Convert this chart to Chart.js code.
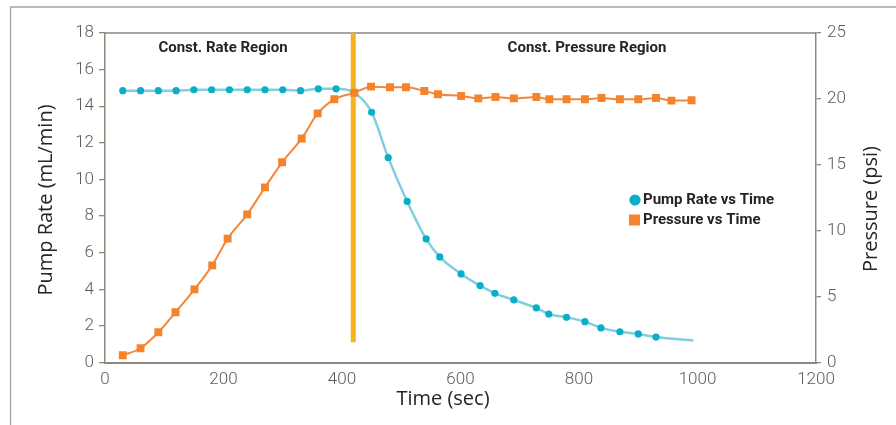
<!DOCTYPE html>
<html>
<head>
<meta charset="utf-8">
<script src="https://cdn.jsdelivr.net/npm/chart.js@4/dist/chart.umd.min.js"></script>
<style>
  html, body { margin: 0; padding: 0; background: #fff; }
  #wrap { width: 896px; height: 425px; }
</style>
</head>
<body>
<div id="wrap"><canvas id="chart" width="896" height="425"></canvas></div>
<script>
// Pump rate (mL/min) vs time (sec) - last point is the end of the smoothed line, no marker
const pumpTime = [30, 60, 90, 120, 150, 180, 210, 240, 270, 300, 330, 360, 390, 420, 450, 478, 510, 542, 565, 601, 633, 658, 690, 728, 749, 779, 810, 837, 869, 900, 930, 993];
const pumpRate = [14.85, 14.85, 14.85, 14.85, 14.9, 14.9, 14.9, 14.9, 14.9, 14.9, 14.85, 14.95, 14.95, 14.75, 13.67, 11.19, 8.8, 6.75, 5.77, 4.84, 4.2, 3.78, 3.42, 2.98, 2.65, 2.47, 2.23, 1.89, 1.68, 1.56, 1.39, 1.2];

// Pressure (psi) vs time (sec)
const pressTime = [30, 60, 90, 119, 151, 181, 207, 240, 270, 299, 332, 359, 387, 421, 449, 481, 508, 539, 562, 601, 630, 659, 690, 728, 750, 779, 810, 838, 869, 900, 930, 956, 990];
const pressure = [0.55, 1.08, 2.29, 3.81, 5.55, 7.37, 9.4, 11.24, 13.29, 15.19, 17.0, 18.9, 19.97, 20.47, 20.93, 20.88, 20.88, 20.6, 20.35, 20.22, 20.04, 20.14, 20.04, 20.14, 19.97, 19.97, 19.97, 20.07, 19.97, 19.97, 20.07, 19.87, 19.9];

// boundary between the two regions (sec) and its span on the left axis
const switchTime = [419, 419];
const switchRate = [1.1, 18];

const xTicks = [0, 1200, 200];      // min, max, step
const leftTicks = [0, 18, 2];
const rightTicks = [0, 25, 5];

const axisColor = '#8f887d';
const tickColor = '#5b5b5d';
const textColor = '#262425';

const toPts = (xs, ys) => xs.map((x, i) => ({ x: x, y: ys[i] }));
const tickFont = { family: 'Roboto', size: 17, weight: '300' };

const decor = {
    id: 'decor',
    beforeDraw(chart) {
        const { ctx, chartArea: a } = chart;
        ctx.save();
        ctx.strokeStyle = '#aaa399';
        ctx.lineWidth = 1.3;
        ctx.beginPath();
        ctx.moveTo(10.5, chart.height);
        ctx.lineTo(10.5, 7);
        ctx.lineTo(chart.width, 7);
        ctx.stroke();
        ctx.strokeStyle = axisColor;
        ctx.lineWidth = 1.5;
        ctx.beginPath();
        ctx.moveTo(a.left, a.top);
        ctx.lineTo(a.right, a.top);
        ctx.stroke();
        ctx.restore();
    },
    afterDraw(chart) {
        const { ctx } = chart;
        ctx.save();
        ctx.fillStyle = textColor;
        ctx.textAlign = 'center';
        ctx.textBaseline = 'middle';

        // region labels
        ctx.font = 'bold 15px Roboto';
        ctx.fillText('Const. Rate Region', 223, 48);
        ctx.fillText('Const. Pressure Region', 587, 48);

        // axis titles
        ctx.font = '20px "Open Sans"';
        ctx.fillText('Time (sec)', 443, 399);
        ctx.save();
        ctx.translate(46, 200);
        ctx.rotate(-Math.PI / 2);
        ctx.fillText('Pump Rate (mL/min)', 0, 0);
        ctx.restore();
        ctx.save();
        ctx.translate(871, 209);
        ctx.rotate(-Math.PI / 2);
        ctx.fillText('Pressure (psi)', 0, 0);
        ctx.restore();

        // legend
        ctx.textAlign = 'left';
        ctx.font = 'bold 15px Roboto';
        ctx.fillStyle = '#0aaec8';
        ctx.beginPath();
        ctx.arc(635, 200, 5.6, 0, Math.PI * 2);
        ctx.fill();
        ctx.fillStyle = '#f4832b';
        ctx.fillRect(629, 214.5, 11, 11);
        ctx.fillStyle = textColor;
        ctx.fillText('Pump Rate vs Time', 643, 200);
        ctx.fillText('Pressure vs Time', 643, 220);
        ctx.restore();
    }
};

const ctx = document.getElementById('chart').getContext('2d');
const chart = new Chart(ctx, {
    type: 'scatter',
    data: {
        datasets: [{
            label: 'Pressure vs Time',
            data: toPts(pressTime, pressure),
            yAxisID: 'yR',
            showLine: true,
            borderColor: '#f3873a',
            borderWidth: 2,
            backgroundColor: '#f4832b',
            pointStyle: 'rect',
            pointRadius: 5.6,
            pointBorderWidth: 0,
            cubicInterpolationMode: 'monotone',
            order: 0
        }, {
            label: 'Pump Rate vs Time',
            data: toPts(pumpTime, pumpRate),
            yAxisID: 'yL',
            showLine: true,
            borderColor: '#7fd0de',
            borderWidth: 2.5,
            backgroundColor: '#0aaec8',
            pointRadius: c => c.dataIndex === pumpTime.length - 1 ? 0 : 3.6,
            pointBorderWidth: 0,
            cubicInterpolationMode: 'monotone',
            order: 1
        }, {
            label: 'switch',
            data: toPts(switchTime, switchRate),
            yAxisID: 'yL',
            showLine: true,
            borderColor: '#f7b31c',
            borderWidth: 5,
            pointRadius: 0,
            borderCapStyle: 'butt',
            order: 2
        }]
    },
    options: {
        responsive: false,
        animation: false,
        layout: { padding: { top: 33, left: 0, right: 0, bottom: 0 } },
        font: { family: 'Roboto' },
        scales: {
            x: {
                type: 'linear',
                min: xTicks[0],
                max: xTicks[1],
                ticks: { stepSize: xTicks[2], color: tickColor, padding: 7, font: tickFont, callback: v => String(v) },
                grid: { display: false, drawTicks: false },
                border: { display: true, color: axisColor, width: 2 },
                afterFit: s => { s.height = 62.5; }
            },
            yL: {
                position: 'left',
                min: leftTicks[0],
                max: leftTicks[1],
                ticks: { stepSize: leftTicks[2], color: tickColor, padding: 5, font: tickFont },
                grid: { drawOnChartArea: false, drawTicks: true, tickLength: 6, color: axisColor, lineWidth: 1.3 },
                border: { display: true, color: axisColor, width: 1.5 },
                afterFit: s => { s.width = 105; }
            },
            yR: {
                position: 'right',
                min: rightTicks[0],
                max: rightTicks[1],
                ticks: { stepSize: rightTicks[2], color: tickColor, padding: 6, font: tickFont },
                grid: { drawOnChartArea: false, drawTicks: true, tickLength: 5, color: axisColor, lineWidth: 1.3 },
                border: { display: true, color: axisColor, width: 1.5 },
                afterFit: s => { s.width = 80; }
            }
        },
        plugins: {
            legend: { display: false },
            tooltip: { enabled: false }
        }
    },
    plugins: [decor]
});
</script>
</body>
</html>
